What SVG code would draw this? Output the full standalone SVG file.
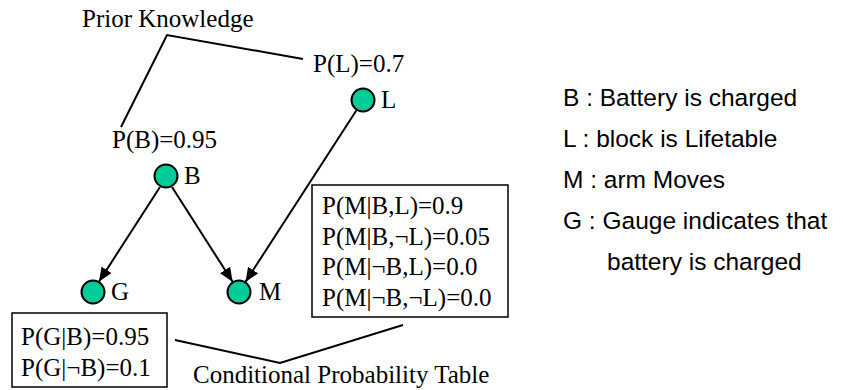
<svg xmlns="http://www.w3.org/2000/svg" width="843" height="390" viewBox="0 0 843 390">
<style>
.serif{font-family:"Liberation Serif","Times New Roman",serif;font-size:25px;fill:#000}
.sans{font-family:"Liberation Sans",Arial,sans-serif;font-size:24.5px;fill:#000}
.node circle{fill:#00CC99;stroke:#000;stroke-width:2}
.ln{stroke:#000;stroke-width:2;fill:none}
.box{fill:#fff;stroke:#000;stroke-width:1.5}
</style>
<defs>
<marker id="ah" markerUnits="userSpaceOnUse" markerWidth="14" markerHeight="12" refX="14" refY="6" orient="auto">
<path d="M0,0 L14,6 L0,12 z" fill="#000"/>
</marker>
</defs>
<rect width="843" height="390" fill="#fff"/>
<g id="connectors">
<line class="ln" x1="160" y1="187" x2="99" y2="281.6" marker-end="url(#ah)"/>
<line class="ln" x1="172" y1="187" x2="232.6" y2="281.8" marker-end="url(#ah)"/>
<line class="ln" x1="356.8" y1="109.7" x2="245.5" y2="281.9" marker-end="url(#ah)"/>
<polyline class="ln" points="121,127 167,35 303,59"/>
<polyline class="ln" points="175,340 280,363 403,325"/>
</g>
<g id="node-L" class="node">
<circle cx="363" cy="100" r="11.5"/>
<text class="serif" x="381" y="108">L</text>
</g>
<g id="node-B" class="node">
<circle cx="166" cy="176" r="11.5"/>
<text class="serif" x="184" y="184">B</text>
</g>
<g id="node-G" class="node">
<circle cx="93" cy="292" r="11.5"/>
<text class="serif" x="111" y="300">G</text>
</g>
<g id="node-M" class="node">
<circle cx="239" cy="292" r="11.5"/>
<text class="serif" x="259" y="300">M</text>
</g>
<g id="prior">
<text class="serif" x="82" y="27">Prior Knowledge</text>
<text class="serif" x="313" y="72">P(L)=0.7</text>
<text class="serif" x="112" y="148">P(B)=0.95</text>
</g>
<g id="cpt-M">
<rect class="box" x="312" y="185" width="196" height="132"/>
<text class="serif" x="322" y="214">P(M|B,L)=0.9</text>
<text class="serif" x="322" y="245">P(M|B,¬L)=0.05</text>
<text class="serif" x="322" y="275">P(M|¬B,L)=0.0</text>
<text class="serif" x="322" y="306">P(M|¬B,¬L)=0.0</text>
</g>
<g id="cpt-G">
<rect class="box" x="12" y="313" width="155" height="74"/>
<text class="serif" x="21" y="345">P(G|B)=0.95</text>
<text class="serif" x="21" y="376">P(G|¬B)=0.1</text>
</g>
<g id="cpt-label">
<text class="serif" x="193" y="383">Conditional Probability Table</text>
</g>
<g id="legend">
<text class="sans" x="563" y="106">B : Battery is charged</text>
<text class="sans" x="563" y="147">L : block is Lifetable</text>
<text class="sans" x="563" y="188">M : arm Moves</text>
<text class="sans" x="563" y="229">G : Gauge indicates that</text>
<text class="sans" x="607" y="270">battery is charged</text>
</g>
</svg>
